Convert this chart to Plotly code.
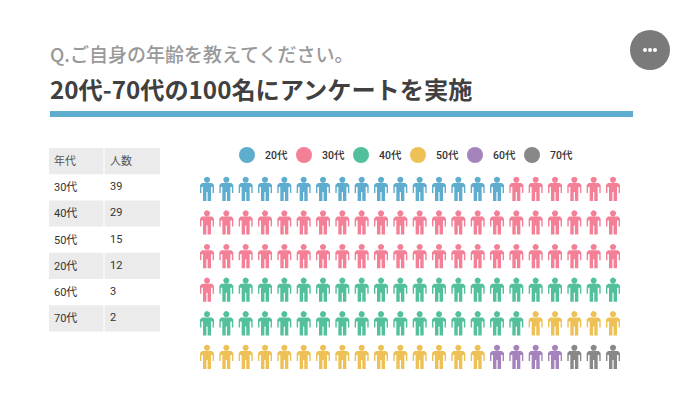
import numpy as np
from plotly import graph_objects as go

# table
table_header = ['年代', '人数']
table_ages = ['30代', '40代', '50代', '20代', '60代', '70代']
table_people = [39, 29, 15, 12, 3, 2]

# pictogram, icon count per group as drawn (22 x 6 grid)
groups = ['20代', '30代', '40代', '50代', '60代', '70代']
icon_counts = [16, 51, 38, 20, 4, 3]
colors = ['#5eadcf', '#f48097', '#52c09c', '#eec157', '#a583bd', '#888888']

title_q = 'Q.ご自身の年齢を教えてください。'
title_main = '20代-70代の100名にアンケートを実施'

FONT = 'Roboto, Noto Sans CJK JP'
CJK = 'Noto Sans CJK JP'
W, H = 679, 420
n_cols = 22
col_x = np.linspace(207, 613, n_cols)
row_y = np.linspace(190, 358, 6)

# person outline around its centre, px
body = [(-5, -7), (5, -7), (7, -5), (7, 3), (5.6, 3), (5.6, -3), (4, -3), (4, 11), (0.6, 11), (0.6, 2),
        (-0.6, 2), (-0.6, 11), (-4, 11), (-4, -3), (-5.6, -3), (-5.6, 3), (-7, 3), (-7, -5), (-5, -7)]
t = np.linspace(0, 2 * np.pi, 17)
head = list(zip(3.1 * np.cos(t), -10.2 + 3.1 * np.sin(t)))


def person_paths(cells):
    xs, ys = [], []
    for c in cells:
        cx = col_x[c % n_cols]
        cy = row_y[c // n_cols]
        for part in (body, head):
            xs += [cx + p[0] for p in part] + [None]
            ys += [cy + p[1] for p in part] + [None]
    return xs, ys


fig = go.Figure()

start = 0
for group, count, color in zip(groups, icon_counts, colors):
    xs, ys = person_paths(range(start, start + count))
    start += count
    fig.add_trace(go.Scatter(x=xs, y=ys, mode='lines', fill='toself', fillcolor=color,
                             line=dict(width=0, color=color), hoverinfo='skip', name=group))

# legend
legend_x = 247 + 57 * np.arange(len(groups))
fig.add_trace(go.Scatter(x=legend_x, y=[155] * len(groups), mode='markers',
                         marker=dict(size=16, color=colors), hoverinfo='skip'))
for x, group in zip(legend_x, groups):
    fig.add_annotation(x=x + 16, y=155, text=group, showarrow=False, xanchor='left',
                       font=dict(family=FONT, size=10.5, color='#333333', weight=500))

# menu button
fig.add_trace(go.Scatter(x=[650], y=[50], mode='markers', marker=dict(size=40, color='#7a7a7a'), hoverinfo='skip'))
fig.add_trace(go.Scatter(x=[645, 650, 655], y=[50, 50, 50], mode='markers',
                         marker=dict(size=4, color='white'), hoverinfo='skip'))

fig.add_shape(type='rect', x0=50, x1=633, y0=111, y1=117, fillcolor='#5eadcf', line_width=0)

fig.add_annotation(x=48, y=53, text=title_q, showarrow=False, xanchor='left',
                   font=dict(family=CJK, size=19, color='#999999', weight=500))
fig.add_annotation(x=48, y=88, text=title_main, showarrow=False, xanchor='left',
                   font=dict(family=CJK, size=24.2, color='#404040', weight=700))

# table drawn as cells, header row then one row per age group
cell_x = [(49, 103.5), (104.5, 160)]
for i, row in enumerate([table_header] + [list(r) for r in zip(table_ages, table_people)]):
    y0 = 148 + i * 26.2
    for (x0, x1), value in zip(cell_x, row):
        if i % 2 == 0:
            fig.add_shape(type='rect', x0=x0, x1=x1, y0=y0, y1=y0 + 26.2, fillcolor='#ebebeb', line_width=0, layer='below')
        fig.add_annotation(x=x0 + 3, y=y0 + 13 + (0 if i == 0 else 0.5 if x0 < 100 else -0.5), text=str(value),
                           showarrow=False, xanchor='left',
                           font=dict(family=FONT, size=11, color='#555555' if i == 0 else '#333333'))

fig.update_xaxes(range=[0, W], visible=False, fixedrange=True)
fig.update_yaxes(range=[H, 0], visible=False, fixedrange=True)
fig.update_layout(width=W, height=H, margin=dict(l=0, r=0, t=0, b=0), showlegend=False,
                  paper_bgcolor='white', plot_bgcolor='white')

fig.write_html("out.html", config={'displayModeBar': False},
               post_script="document.body.style.margin='0';")
